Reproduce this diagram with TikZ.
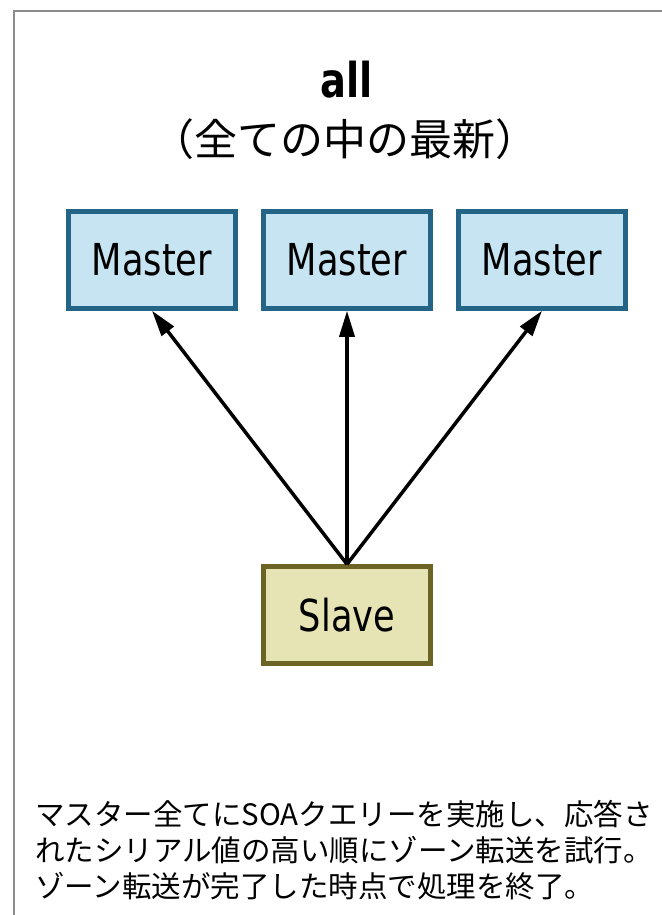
\documentclass[tikz,border=0pt]{standalone}
\usepackage{fontspec}
\setmainfont{DejaVu Sans}[FakeStretch=0.8]
\newfontfamily\jpfont{Noto Sans CJK JP}
\usetikzlibrary{arrows.meta}
\definecolor{masterline}{HTML}{246487}
\definecolor{masterfill}{HTML}{C7E4F2}
\definecolor{slaveline}{HTML}{6B6425}
\definecolor{slavefill}{HTML}{E6E3B4}
\definecolor{framegray}{HTML}{8C8C8C}
\tikzset{
  master/.style={draw=masterline,fill=masterfill,line width=4.5pt,
    minimum width=167pt,minimum height=97pt,inner sep=0pt,
    font=\fontsize{44}{48}\selectfont},
  slave/.style={master,draw=slaveline,fill=slavefill}
}
\begin{document}
\begin{tikzpicture}[x=1pt,y=-1pt,>={Triangle[length=26pt,width=15pt]}]
    \useasboundingbox (0,0) rectangle (661,915);
    \draw[framegray,line width=2pt] (14,920) -- (14,11) -- (670,11);
    % title
    \node[anchor=base,font=\bfseries\fontsize{48}{52}\selectfont] (title) at (347,98) {all};
    \node[anchor=base,font=\jpfont\fontsize{43}{48}\selectfont] (subtitle) at (345,155) {（全ての中の最新）};
    % boxes
    \node[master] (m1) at (152,260) {Master};
    \node[master] (m2) at (347,260) {Master};
    \node[master] (m3) at (542,260) {Master};
    \node[slave] (s) at (347,615) {Slave};
    \foreach \m in {m1,m2,m3}
      \draw[->,line width=3.5pt] (s.north) -- (\m.south);
    % note
    \node[anchor=base west,align=left,inner sep=0pt,
      font=\jpfont\fontsize{29.5}{36}\selectfont] (note) at (35,897)
      {マスター全てにSOAクエリーを実施し、応答さ\\
       れたシリアル値の高い順にゾーン転送を試行。\\
       ゾーン転送が完了した時点で処理を終了。};
\end{tikzpicture}
\end{document}
